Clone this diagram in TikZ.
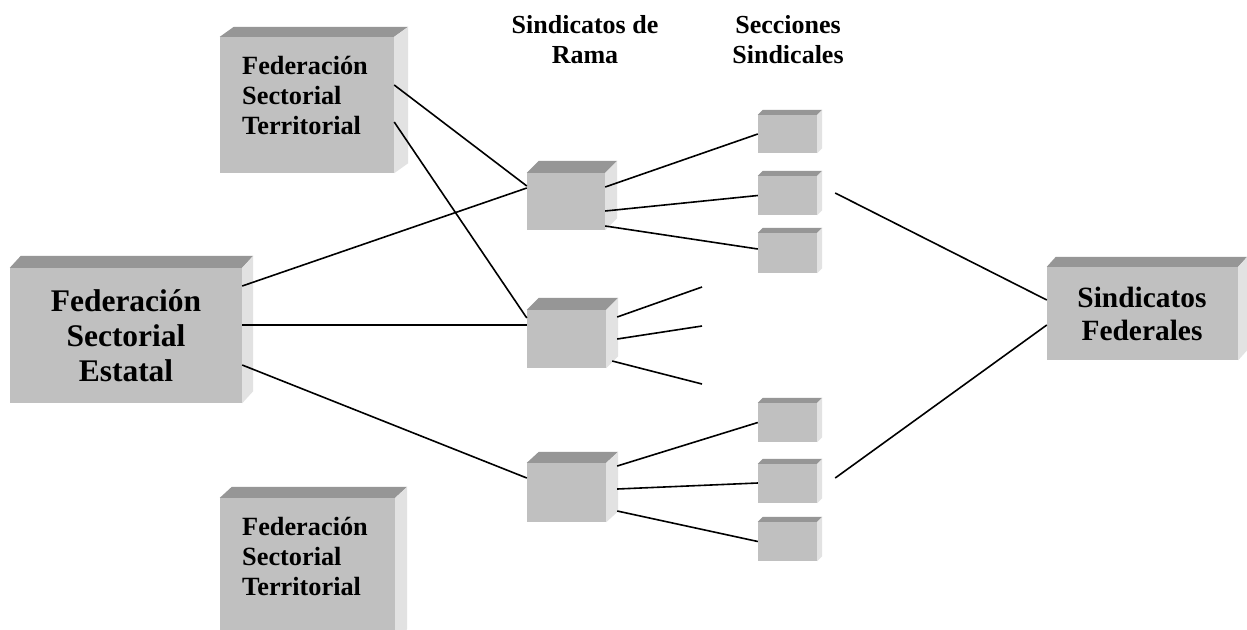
\documentclass[tikz,border=0pt]{standalone}
\usepackage{fontspec}
\setmainfont{Liberation Serif}
\usetikzlibrary{calc}
\definecolor{frontc}{HTML}{C0C0C0}
\definecolor{topc}{HTML}{969696}
\definecolor{sidec}{HTML}{E2E2E2}
\tikzset{
  box/.style={rectangle, fill=frontc, draw=none, inner sep=0pt},
  conn/.style={line width=1.6pt, black},
  lbl/.style={inner sep=0pt, align=left, font=\bfseries},
  hdr/.style={inner sep=0pt, align=center, font=\bfseries\fontsize{26}{30}\selectfont},
}
% 3D faces: #1 node name, #2 dx, #3 dy (in px; y axis points down)
\newcommand{\threedfaces}[3]{%
  \fill[topc] (#1.north west) -- ++(#2,-#3) -- ($(#1.north east)+(#2,-#3)$) -- (#1.north east) -- cycle;
  \fill[sidec] (#1.north east) -- ++(#2,-#3) -- ($(#1.south east)+(#2,-#3)$) -- (#1.south east) -- cycle;
}
\begin{document}
\begin{tikzpicture}[x=1pt,y=-1pt]
\useasboundingbox (0,0) rectangle (1247,629);
\clip (0,0) rectangle (1247,629);
\fill[white] (0,0) rectangle (1247,629);

% boxes (front faces)
\node[box, minimum width=174pt, minimum height=136pt] (fst1) at (307,105) {};
\node[box, minimum width=232pt, minimum height=135pt] (fse) at (126,335.5) {};
\node[box, minimum width=175pt, minimum height=142pt] (fst2) at (307.5,569) {};
\node[box, minimum width=78pt, minimum height=57pt] (rama1) at (566,201.5) {};
\node[box, minimum width=79pt, minimum height=58pt] (rama2) at (566.5,339) {};
\node[box, minimum width=79pt, minimum height=59pt] (rama3) at (566.5,492.5) {};
\node[box, minimum width=59pt, minimum height=38pt] (sec1) at (787.5,134) {};
\node[box, minimum width=59pt, minimum height=39pt] (sec2) at (787.5,195.5) {};
\node[box, minimum width=59pt, minimum height=40pt] (sec3) at (787.5,253) {};
\node[box, minimum width=59pt, minimum height=39pt] (sec4) at (787.5,422.5) {};
\node[box, minimum width=59pt, minimum height=39pt] (sec5) at (787.5,483.5) {};
\node[box, minimum width=59pt, minimum height=39pt] (sec6) at (787.5,541.5) {};
\node[box, minimum width=191pt, minimum height=93pt] (sf) at (1142.5,313.5) {};

\threedfaces{fst1}{14}{10}
\threedfaces{fse}{11}{12}
\threedfaces{fst2}{12}{11}
\threedfaces{rama1}{12}{12}
\threedfaces{rama2}{12}{12}
\threedfaces{rama3}{12}{11}
\threedfaces{sec1}{5}{5}
\threedfaces{sec2}{5}{5}
\threedfaces{sec3}{5}{5}
\threedfaces{sec4}{5}{5}
\threedfaces{sec5}{5}{5}
\threedfaces{sec6}{5}{5}
\threedfaces{sf}{9}{10}

% labels (base anchor = baseline of the last line)
\node[lbl, anchor=base west, font=\bfseries\fontsize{26.3}{30}\selectfont] (fst1t) at (242,134) {Federación\\Sectorial\\Territorial};
\node[lbl, anchor=base west, font=\bfseries\fontsize{26.3}{30}\selectfont] (fst2t) at (242,595) {Federación\\Sectorial\\Territorial};
\node[lbl, align=center, anchor=base, font=\bfseries\fontsize{31.5}{35}\selectfont] (fset) at (126,381) {Federación\\Sectorial\\Estatal};
\node[lbl, align=center, anchor=base, font=\bfseries\fontsize{29.4}{33}\selectfont] (sft) at (1142,340) {Sindicatos\\Federales};
\node[hdr, anchor=base] (h1) at (585,63) {Sindicatos de\\Rama};
\node[hdr, anchor=base] (h2) at (788,63) {Secciones\\Sindicales};

% free ends
\coordinate (c1) at (702,287);
\coordinate (c2) at (702,326);
\coordinate (c3) at (702,384);

% connectors
\draw[conn] ([yshift=20pt]fst1.east) -- ([yshift=15.5pt]rama1.west);
\draw[conn] ([yshift=-17pt]fst1.east) -- ([yshift=21pt]rama2.west);
\draw[conn] ([yshift=49.5pt]fse.east) -- ([yshift=13.5pt]rama1.west);
\draw[conn] ([yshift=10.5pt]fse.east) -- ([yshift=14pt]rama2.west);
\draw[conn] ([yshift=-29.5pt]fse.east) -- ([yshift=14.5pt]rama3.west);
\draw[conn] ([yshift=14.5pt]rama1.east) -- (sec1.west);
\draw[conn] ([yshift=-9.5pt]rama1.east) -- (sec2.west);
\draw[conn] ([yshift=-24.5pt]rama1.east) -- ([yshift=4pt]sec3.west);
\draw[conn] ([xshift=11pt,yshift=22pt]rama2.east) -- (c1);
\draw[conn] ([xshift=11pt]rama2.east) -- (c2);
\draw[conn] ([xshift=6pt,yshift=-22pt]rama2.east) -- (c3);
\draw[conn] ([xshift=11pt,yshift=26.5pt]rama3.east) -- (sec4.west);
\draw[conn] ([xshift=11pt,yshift=3.5pt]rama3.east) -- ([yshift=0.5pt]sec5.west);
\draw[conn] ([xshift=11pt,yshift=-18.5pt]rama3.east) -- (sec6.west);
\draw[conn] ([xshift=18pt,yshift=2.5pt]sec2.east) -- ([yshift=13.5pt]sf.west);
\draw[conn] ([xshift=18pt,yshift=5.5pt]sec5.east) -- ([yshift=-11.5pt]sf.west);
\end{tikzpicture}
\end{document}
